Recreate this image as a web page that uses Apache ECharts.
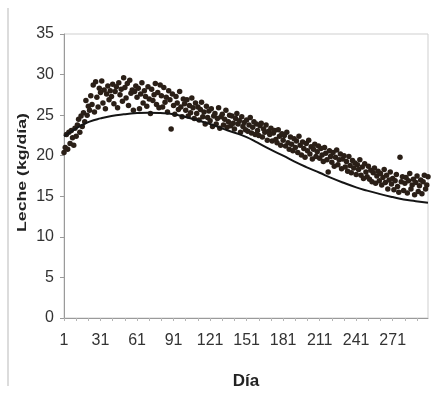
<!DOCTYPE html>
<html>
<head>
<meta charset="utf-8">
<script src="https://cdn.jsdelivr.net/npm/echarts@6/dist/echarts.min.js"></script>
<style>html,body{margin:0;padding:0;background:#fff}#c{width:431px;height:406px}</style>
</head>
<body>
<div id="c"></div>
<script>
// Days 1..300 (categories)
const days = [];
for (let d = 1; d <= 300; d++) days.push(String(d));

const milk = [
  20.4, 21.0, 22.6, 20.8, 22.9, 21.5, 23.1, 22.2, 21.3, 23.4,
  22.4, 23.8, 24.5, 22.9, 24.9, 23.6, 25.3, 24.2, 26.8, 25.0,
  26.1, 25.6, 27.4, 26.3, 28.7, 25.4, 29.1, 27.2, 26.0, 28.3,
  27.8, 29.2, 26.5, 28.1, 25.8, 27.6, 28.6, 26.9, 28.0, 27.3,
  28.8, 26.4, 27.9, 28.5, 25.9, 29.0, 27.5, 28.2, 26.7, 29.6,
  28.4, 27.1, 28.9, 26.2, 29.3, 27.7, 28.1, 25.6, 27.9, 28.6,
  27.2, 28.3, 25.8, 27.6, 29.0, 26.5, 28.0, 27.3, 26.1, 28.5,
  27.0, 25.2, 28.2, 26.8, 27.5, 28.9, 26.3, 27.8, 25.9, 28.7,
  27.4, 26.0, 28.4, 26.6, 27.2, 25.4, 28.0, 26.9, 23.3, 27.6,
  26.2, 25.1, 27.3, 26.5, 25.7, 27.9, 26.0, 24.8, 27.0, 26.4,
  25.6, 26.9, 24.9, 26.2, 25.3, 27.1, 25.9, 24.6, 26.5, 25.2,
  26.0, 24.4, 25.7, 26.6, 24.8, 25.4, 23.9, 26.1, 24.7, 25.5,
  24.3, 25.8, 23.6, 24.9, 25.2, 23.9, 24.6, 25.9, 23.4, 24.8,
  25.1, 23.8, 24.5, 25.6, 23.5, 24.2, 25.0, 23.7, 24.9, 24.0,
  23.3, 24.6, 25.2, 23.9, 24.3, 22.9, 24.8, 23.6, 24.1, 23.2,
  24.4, 23.0, 23.8, 24.7, 22.8, 23.5, 24.2, 22.6, 23.9, 23.1,
  22.5, 23.7, 24.0, 22.3, 23.3, 22.9, 23.8, 21.9, 23.0, 22.6,
  23.4, 21.8, 22.8, 23.1, 22.0, 21.6, 23.2, 22.4, 21.3, 22.7,
  21.9, 22.5, 21.2, 22.9, 21.6, 20.8, 22.3, 21.4, 20.6, 22.1,
  21.0, 21.8, 20.4, 22.4, 21.3, 20.1, 21.7, 20.9, 19.8, 21.5,
  20.6, 21.9, 20.2, 21.1, 19.6, 20.8, 21.4, 19.9, 20.5, 21.2,
  19.7, 20.9, 20.1, 19.3, 21.0, 20.3, 19.5, 18.0, 20.6, 19.9,
  19.2, 20.4, 18.7, 19.8, 20.7, 18.9, 19.5, 20.2, 18.4, 19.6,
  20.0, 18.6, 19.3, 18.1, 19.9, 18.8, 17.9, 19.4, 18.5, 19.1,
  17.7, 18.9, 18.3, 19.5, 17.6, 18.6, 17.2, 19.0, 18.0, 17.4,
  18.7, 17.1, 18.2, 16.8, 17.9, 18.5, 16.6, 17.5, 18.1, 16.9,
  17.8, 16.4, 17.3, 18.3, 16.7, 17.6, 15.9, 17.0, 18.0, 16.5,
  17.2, 15.8, 16.9, 17.7, 16.2, 15.5, 19.8, 16.8, 17.4, 15.7,
  16.6, 17.3, 15.4, 16.9, 17.8, 15.9, 16.4, 17.1, 15.2, 16.7,
  17.5, 15.6, 16.3, 17.0, 15.3, 16.8, 17.6, 15.9, 16.4, 17.4
];

// Fitted lactation curve, read at selected days
const curveDays = ['1','8','15','22','31','40','50','61','70','80','91','100','110','121','130','140','151','160','170','181','190','200','211','220','230','241','250','260','271','280','290','300'];
const curveVals = [22.4,23.1,23.7,24.2,24.6,24.9,25.1,25.25,25.3,25.25,25.1,24.8,24.4,23.9,23.4,22.9,22.3,21.6,20.8,20.0,19.3,18.6,17.9,17.3,16.7,16.1,15.7,15.3,14.9,14.6,14.4,14.2];

// Axis tick labels
const yMin = 0, yMax = 35, yStep = 5;
const xLabelEvery = 30;

const labFont = "'Liberation Sans Narrow','Arial Narrow','Liberation Sans',sans-serif";

const chart = echarts.init(document.getElementById('c'), null, {renderer: 'canvas'});
chart.setOption({
  animation: false,
  backgroundColor: '#fff',
  grid: {left: 64, right: 3, top: 34, bottom: 88, show: true, borderColor: '#cfcfcf', borderWidth: 1},
  graphic: [
    {type: 'line', shape: {x1: 8, y1: 8, x2: 8, y2: 386}, style: {stroke: '#d0d0d0', lineWidth: 1.5}},
    {type: 'text', x: 29, y: 232, rotation: Math.PI / 2, scaleX: 1.36, scaleY: 1,
     style: {text: 'Leche (kg/día)', font: "bold 13px 'Liberation Sans',sans-serif", fill: '#222', align: 'left', verticalAlign: 'bottom'}}
  ],
  xAxis: {
    type: 'category',
    data: days,
    boundaryGap: false,
    name: 'Día',
    nameLocation: 'middle',
    nameGap: 55,
    nameTextStyle: {fontFamily: "'Liberation Sans',sans-serif", fontWeight: 'bold', fontSize: 17, color: '#222'},
    axisLine: {lineStyle: {color: '#9a9a9a', width: 1}},
    axisTick: {show: true, interval: 9, length: 3, lineStyle: {color: '#b5b5b5'}},
    axisLabel: {interval: xLabelEvery - 1, fontFamily: labFont, fontSize: 16, color: '#333', margin: 15},
    splitLine: {show: false}
  },
  yAxis: {
    type: 'value',
    min: yMin, max: yMax, interval: yStep,
    axisLine: {show: true, lineStyle: {color: '#9a9a9a', width: 1}},
    axisTick: {show: true, length: 4, lineStyle: {color: '#9a9a9a'}},
    axisLabel: {fontFamily: labFont, fontSize: 16, color: '#333', margin: 10},
    splitLine: {show: false}
  },
  series: [
    {
      type: 'scatter',
      data: milk,
      symbol: 'circle',
      symbolSize: 5.5,
      itemStyle: {color: '#2a1f17', opacity: 1},
      z: 2
    },
    {
      type: 'line',
      data: curveDays.map((d, i) => [d, curveVals[i]]),
      smooth: 0.5,
      showSymbol: false,
      lineStyle: {color: '#151515', width: 2},
      z: 3
    }
  ]
});
</script>
</body>
</html>
